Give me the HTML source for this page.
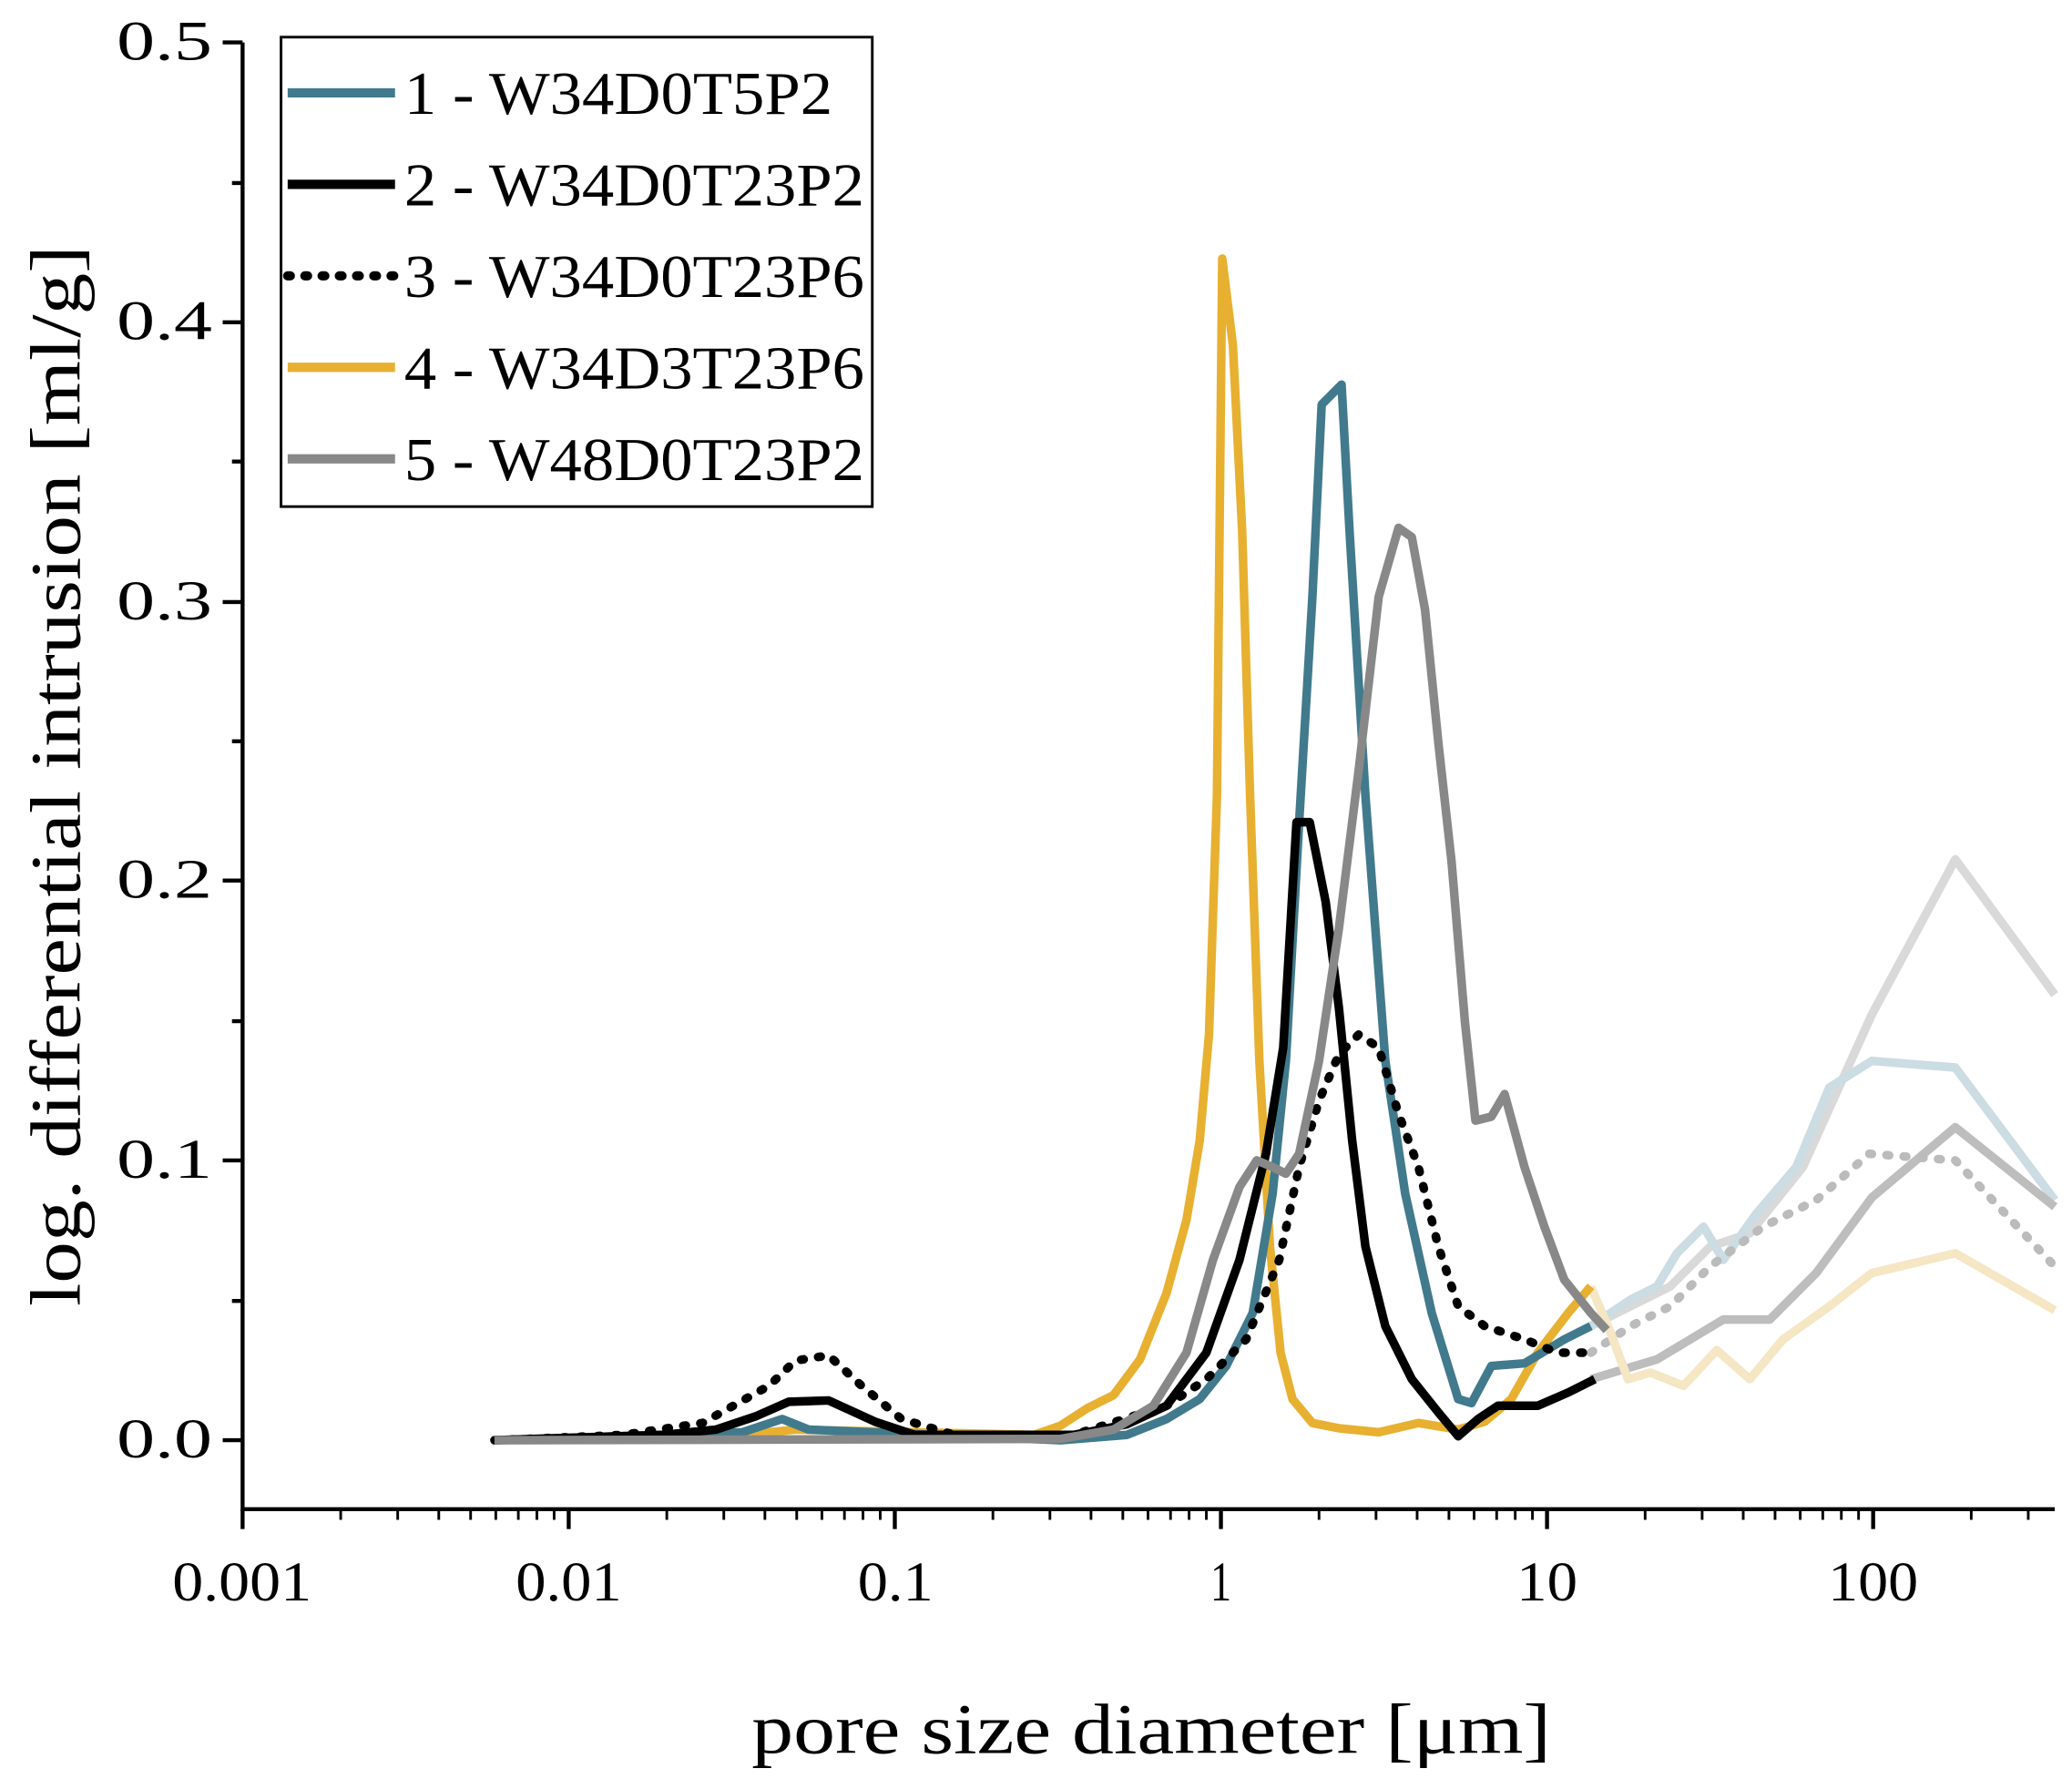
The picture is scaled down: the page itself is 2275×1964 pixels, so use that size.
<!DOCTYPE html>
<html><head><style>html,body{margin:0;padding:0;background:#fff}svg{display:block}</style></head><body>
<svg width="2275" height="1964" viewBox="0 0 1563 1349" preserveAspectRatio="none" xmlns="http://www.w3.org/2000/svg" font-family="Liberation Serif, serif">
<rect width="1563" height="1349" fill="#fff"/>
<g fill="none" stroke-width="6.5" stroke-linejoin="round">
<polyline stroke="#D9D9D9" points="1200,1000 1230,985 1260,970 1290,940 1320,930 1360,880 1412,765 1475,648 1550,750"/>
<polyline stroke="#CBDCE3" points="1200,1000 1230,980 1250,970 1265,945 1285,925 1300,950 1325,915 1355,880 1380,820 1412,800 1475,805 1550,905"/>
<polyline stroke="#BDBDBD" points="1200,1040 1250,1025 1300,995 1335,995 1370,960 1412,903 1475,850 1550,910"/>
<polyline stroke="#BBBBBB" stroke-dasharray="2,11" stroke-linecap="round" points="1200,1020 1230,1000 1260,985 1290,955 1330,925 1370,905 1410,870 1475,875 1550,955"/>
<polyline stroke="#F5E6C4" points="1200,970 1215,1005 1228,1040 1245,1035 1270,1045 1295,1018 1320,1040 1345,1010 1380,985 1412,960 1475,945 1550,988"/>
<polyline stroke="#E8B030" points="373,1086 560,1082 600,1078 780,1082 800,1075 820,1062 840,1052 860,1025 880,975 895,920 905,860 912,780 918,600 922,195 930,260 937,400 943,600 950,800 958,940 966,1020 975,1055 990,1073 1010,1077 1040,1080 1070,1073 1100,1078 1120,1072 1140,1055 1160,1020 1183,990 1200,970"/>
<polyline stroke="#417A8C" points="373,1086 560,1080 590,1070 610,1078 800,1086 850,1082 880,1070 905,1055 925,1030 945,990 960,900 970,800 980,620 990,450 997,305 1012,290 1018,400 1030,600 1045,800 1060,900 1080,990 1100,1055 1110,1058 1125,1030 1150,1028 1180,1010 1200,1000"/>
<polyline stroke="#000" points="373,1086 500,1082 540,1078 570,1068 595,1057 625,1056 660,1072 690,1082 810,1082 850,1074 880,1060 910,1020 935,950 955,870 968,790 978,620 988,620 1000,680 1010,760 1020,860 1030,940 1045,1000 1065,1040 1085,1065 1100,1083 1115,1070 1130,1060 1160,1060 1183,1050 1203,1040"/>
<polyline stroke="#000" stroke-dasharray="2,11" stroke-linecap="round" points="373,1086 470,1082 530,1073 580,1045 600,1026 625,1022 650,1045 680,1070 720,1082 800,1085 880,1060 910,1040 940,1010 965,950 980,880 995,830 1010,795 1025,780 1040,790 1055,840 1070,880 1085,940 1100,985 1120,1000 1150,1010 1175,1020 1200,1020"/>
<polyline stroke="#888" points="373,1086 800,1085 840,1078 870,1060 895,1020 915,950 935,895 948,875 960,880 970,885 980,870 995,800 1010,700 1025,580 1040,450 1055,398 1065,405 1075,460 1085,560 1095,650 1105,770 1113,845 1125,842 1135,825 1150,880 1165,925 1180,965 1200,990 1212,1003"/>
</g>
<g stroke="#000" stroke-width="3" fill="none">
<polyline points="183,32 183,1138 1550,1138"/>
<path d="M168,1086H183M168,875H183M168,664H183M168,454H183M168,243H183M168,32H183 M175,981H183M175,770H183M175,559H183M175,348H183M175,138H183"/>
<path d="M183,1138v15M429,1138v15M675,1138v15M921,1138v15M1167,1138v15M1413,1138v15"/>
<path stroke-width="2" d="M257,1138v8M300,1138v8M331,1138v8M355,1138v8M374,1138v8M391,1138v8M405,1138v8M418,1138v8
M503,1138v8M546,1138v8M577,1138v8M601,1138v8M620,1138v8M637,1138v8M651,1138v8M664,1138v8
M749,1138v8M792,1138v8M823,1138v8M847,1138v8M866,1138v8M883,1138v8M897,1138v8M910,1138v8
M995,1138v8M1038,1138v8M1069,1138v8M1093,1138v8M1112,1138v8M1129,1138v8M1143,1138v8M1156,1138v8
M1241,1138v8M1284,1138v8M1315,1138v8M1339,1138v8M1358,1138v8M1375,1138v8M1389,1138v8M1402,1138v8
M1487,1138v8M1530,1138v8"/>
</g>
<g font-size="42" lengthAdjust="spacingAndGlyphs">
<text x="88" y="1099" textLength="72" lengthAdjust="spacingAndGlyphs">0.0</text><text x="88" y="888" textLength="72" lengthAdjust="spacingAndGlyphs">0.1</text><text x="88" y="677" textLength="72" lengthAdjust="spacingAndGlyphs">0.2</text>
<text x="88" y="467" textLength="72" lengthAdjust="spacingAndGlyphs">0.3</text><text x="88" y="256" textLength="72" lengthAdjust="spacingAndGlyphs">0.4</text><text x="88" y="45" textLength="72" lengthAdjust="spacingAndGlyphs">0.5</text>
</g>
<g font-size="42">
<text x="130" y="1207" textLength="105" lengthAdjust="spacingAndGlyphs">0.001</text><text x="389" y="1207" textLength="80" lengthAdjust="spacingAndGlyphs">0.01</text><text x="647" y="1207" textLength="57" lengthAdjust="spacingAndGlyphs">0.1</text>
<text x="913" y="1207" textLength="16" lengthAdjust="spacingAndGlyphs">1</text><text x="1144" y="1207" textLength="46" lengthAdjust="spacingAndGlyphs">10</text><text x="1379" y="1207" textLength="68" lengthAdjust="spacingAndGlyphs">100</text>
</g>
<text x="567" y="1322" font-size="54" textLength="603" lengthAdjust="spacingAndGlyphs">pore size diameter [μm]</text>
<text transform="translate(60,985) rotate(-90)" font-size="54" textLength="800" lengthAdjust="spacingAndGlyphs">log. differential intrusion [ml/g]</text>
<rect x="212" y="28" width="446" height="354" fill="#fff" stroke="#000" stroke-width="2"/>
<g stroke-width="7" fill="none">
<line x1="217" y1="70" x2="298" y2="70" stroke="#417A8C"/>
<line x1="217" y1="139" x2="298" y2="139" stroke="#000"/>
<line x1="217" y1="208" x2="298" y2="208" stroke="#000" stroke-dasharray="2,11" stroke-linecap="round"/>
<line x1="217" y1="277" x2="298" y2="277" stroke="#E8B030"/>
<line x1="217" y1="346" x2="298" y2="346" stroke="#888"/>
</g>
<g font-size="46">
<text x="305" y="86" textLength="323" lengthAdjust="spacingAndGlyphs">1 - W34D0T5P2</text>
<text x="305" y="155" textLength="347" lengthAdjust="spacingAndGlyphs">2 - W34D0T23P2</text>
<text x="305" y="224" textLength="347" lengthAdjust="spacingAndGlyphs">3 - W34D0T23P6</text>
<text x="305" y="293" textLength="347" lengthAdjust="spacingAndGlyphs">4 - W34D3T23P6</text>
<text x="305" y="362" textLength="347" lengthAdjust="spacingAndGlyphs">5 - W48D0T23P2</text>
</g>
</svg>
</body></html>
